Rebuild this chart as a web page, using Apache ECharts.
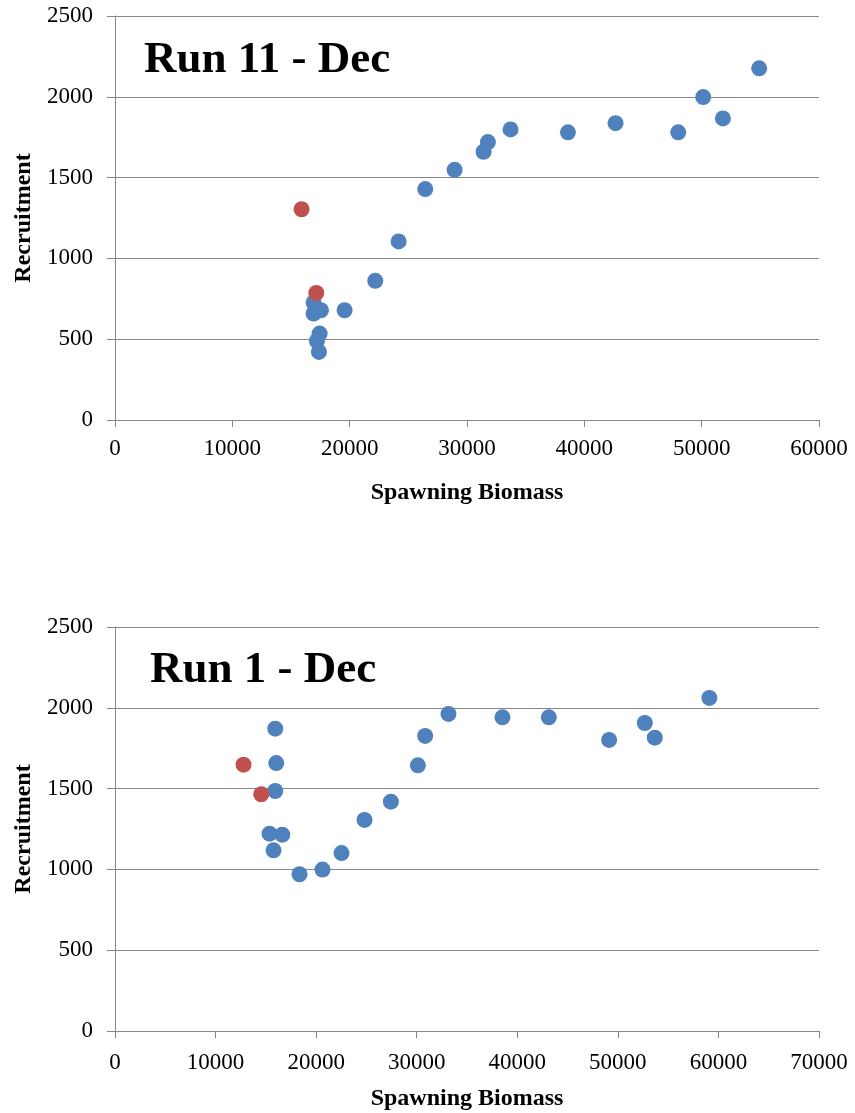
<!DOCTYPE html>
<html>
<head>
<meta charset="utf-8">
<script src="https://cdn.jsdelivr.net/npm/echarts@6/dist/echarts.min.js"></script>
<style>
html,body{margin:0;padding:0;background:#fff;}
#chart{width:855px;height:1113px;}
</style>
</head>
<body>
<div id="chart"></div>
<script>
// Run 11 - Dec
const run11BlueX = [16925, 16925, 17553, 19568, 22181, 24171, 26442, 28942, 31414, 31783, 17438, 17210, 17381, 33711, 38602, 42659, 48002, 50132, 51810, 54903];
const run11BlueY = [727, 659, 679, 679, 861, 1105, 1429, 1548, 1660, 1720, 535, 489, 421, 1798, 1780, 1837, 1780, 1998, 1866, 2176];
const run11RedX = [15900, 17154];
const run11RedY = [1304, 786];

// Run 1 - Dec
const run1BlueX = [15933, 16032, 15933, 15366, 16629, 15764, 18348, 20634, 22522, 24809, 27432, 30116, 30841, 33158, 38526, 43136, 49130, 52678, 53672, 59098];
const run1BlueY = [1871, 1658, 1485, 1221, 1215, 1118, 970, 999, 1101, 1306, 1419, 1644, 1826, 1962, 1941, 1941, 1801, 1906, 1815, 2061];
const run1RedX = [12782, 14541];
const run1RedY = [1648, 1465];

const titles = ['Run 11 - Dec', 'Run 1 - Dec'];
const xMax = [60000, 70000];
const yMax = 2500;
const xName = 'Spawning Biomass';
const yName = 'Recruitment';

const zip = (xs, ys) => xs.map((x, i) => [x, ys[i]]);

const serif = 'Liberation Serif, Times New Roman, serif';
const gray = '#868686';
const blue = '#4F81BD';
const red = '#C0504D';
const plain = v => String(v);

function xAxis(idx, max, labelMargin, nameGap) {
  return {
    gridIndex: idx, type: 'value', min: 0, max: max, interval: 10000,
    name: xName, nameLocation: 'middle', nameGap: nameGap,
    nameTextStyle: {fontFamily: serif, fontWeight: 'bold', fontSize: 24, color: '#000'},
    axisLine: {show: true, lineStyle: {color: gray, width: 1}},
    axisTick: {show: true, inside: false, length: 7, lineStyle: {color: gray}},
    axisLabel: {fontFamily: serif, fontSize: 23, color: '#000', margin: labelMargin, formatter: plain},
    splitLine: {show: false}
  };
}
function yAxis(idx) {
  return {
    gridIndex: idx, type: 'value', min: 0, max: yMax, interval: 500,
    name: yName, nameLocation: 'middle', nameGap: 78, nameRotate: 90,
    nameTextStyle: {fontFamily: serif, fontWeight: 'bold', fontSize: 24, color: '#000'},
    axisLine: {show: true, lineStyle: {color: gray, width: 1}},
    axisTick: {show: true, inside: false, length: 8, lineStyle: {color: gray}},
    axisLabel: {fontFamily: serif, fontSize: 23, color: '#000', margin: 22, formatter: plain},
    splitLine: {show: true, lineStyle: {color: gray, width: 1}}
  };
}
function scatter(idx, data, color) {
  return {
    type: 'scatter', xAxisIndex: idx, yAxisIndex: idx, data: data,
    symbol: 'circle', symbolSize: 16,
    itemStyle: {color: color, opacity: 1},
    emphasis: {disabled: true}, silent: true
  };
}

const chart = echarts.init(document.getElementById('chart'), null, {renderer: 'canvas'});
chart.setOption({
  animation: false,
  backgroundColor: '#fff',
  title: [
    {text: titles[0], left: 144, top: 38, padding: 0,
     textStyle: {fontFamily: serif, fontWeight: 'bold', fontSize: 45, color: '#000'}},
    {text: titles[1], left: 150, top: 648, padding: 0,
     textStyle: {fontFamily: serif, fontWeight: 'bold', fontSize: 45, color: '#000'}}
  ],
  grid: [
    {left: 115, top: 16, width: 704, height: 404},
    {left: 115, top: 627, width: 704, height: 404}
  ],
  xAxis: [xAxis(0, xMax[0], 17, 61), xAxis(1, xMax[1], 20, 56)],
  yAxis: [yAxis(0), yAxis(1)],
  series: [
    scatter(0, zip(run11BlueX, run11BlueY), blue),
    scatter(0, zip(run11RedX, run11RedY), red),
    scatter(1, zip(run1BlueX, run1BlueY), blue),
    scatter(1, zip(run1RedX, run1RedY), red)
  ]
});
</script>
</body>
</html>
